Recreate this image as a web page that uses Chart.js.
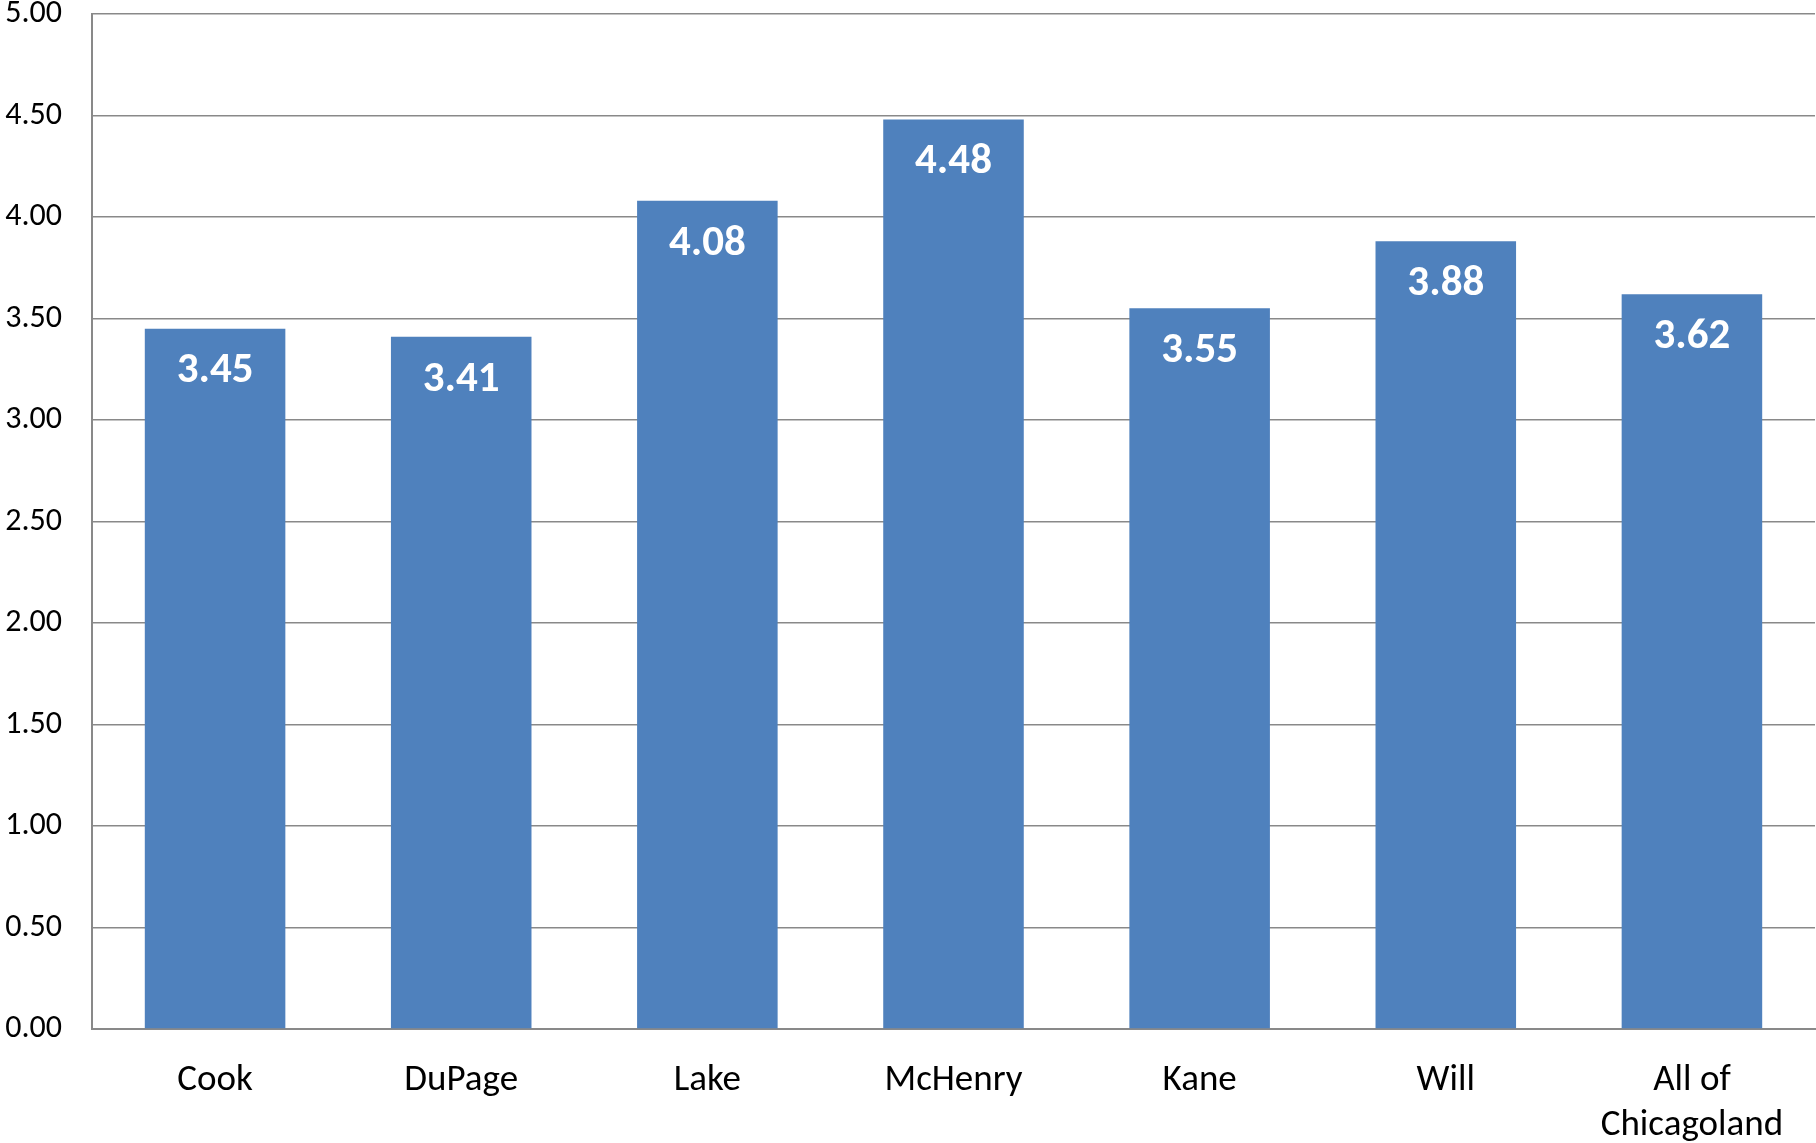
<!DOCTYPE html>
<html>
<head>
<meta charset="utf-8">
<script src="https://cdn.jsdelivr.net/npm/chart.js@4/dist/chart.umd.min.js"></script>
<style>
html,body{margin:0;padding:0;background:#fff;}
#wrap{width:1816px;height:1143px;position:relative;}
</style>
</head>
<body>
<div id="wrap"><canvas id="c" width="1816" height="1143"></canvas></div>
<script>
const categories = ["Cook", "DuPage", "Lake", "McHenry", "Kane", "Will", ["All of", "Chicagoland"]];
const values = [3.45, 3.41, 4.08, 4.48, 3.55, 3.88, 3.62];
const yTicks = [0, 0.5, 1, 1.5, 2, 2.5, 3, 3.5, 4, 4.5, 5];

const FONT = "Carlito, Lato, 'Open Sans', sans-serif";
const GRID = "#898989";

const valueLabels = {
  id: 'valueLabels',
  afterDatasetsDraw(chart) {
    const ctx = chart.ctx;
    const meta = chart.getDatasetMeta(0);
    ctx.save();
    ctx.fillStyle = '#ffffff';
    ctx.font = "bold 43px " + FONT;
    ctx.textAlign = 'center';
    ctx.textBaseline = 'middle';
    meta.data.forEach((bar, i) => {
      ctx.fillText(values[i].toFixed(2), bar.x, bar.y + 43);
    });
    ctx.restore();
  }
};

new Chart(document.getElementById('c'), {
  type: 'bar',
  data: {
    labels: categories,
    datasets: [{
      data: values,
      backgroundColor: '#4F81BD',
      borderWidth: 0,
      categoryPercentage: 1,
      barPercentage: 0.571
    }]
  },
  options: {
    responsive: false,
    animation: false,
    devicePixelRatio: 1,
    layout: { padding: { top: 14, right: 1, left: 0, bottom: 0 } },
    plugins: { legend: { display: false }, tooltip: { enabled: false } },
    scales: {
      x: {
        grid: { display: false, drawTicks: false },
        border: { display: true, color: GRID, width: 2 },
        ticks: {
          color: '#000',
          font: { family: FONT, size: 37, lineHeight: 1.22 },
          padding: 29,
          maxRotation: 0,
          autoSkip: false
        },
        afterFit(scale) {
          scale.height = 114;
          scale.paddingLeft = 0; scale.paddingRight = 0;
        }
      },
      y: {
        min: 0,
        max: 5,
        afterBuildTicks(scale) { scale.ticks = yTicks.map(v => ({ value: v })); },
        grid: { color: GRID, lineWidth: 1.5, drawTicks: false },
        border: { display: true, color: GRID, width: 2 },
        ticks: {
          color: '#000',
          font: { family: FONT, size: 32 },
          padding: 30,
          callback: v => Number(v).toFixed(2)
        },
        afterFit(scale) {
          scale.width = 92;
          scale.paddingTop = 0; scale.paddingBottom = 0;
        }
      }
    }
  },
  plugins: [valueLabels]
});
</script>
</body>
</html>
